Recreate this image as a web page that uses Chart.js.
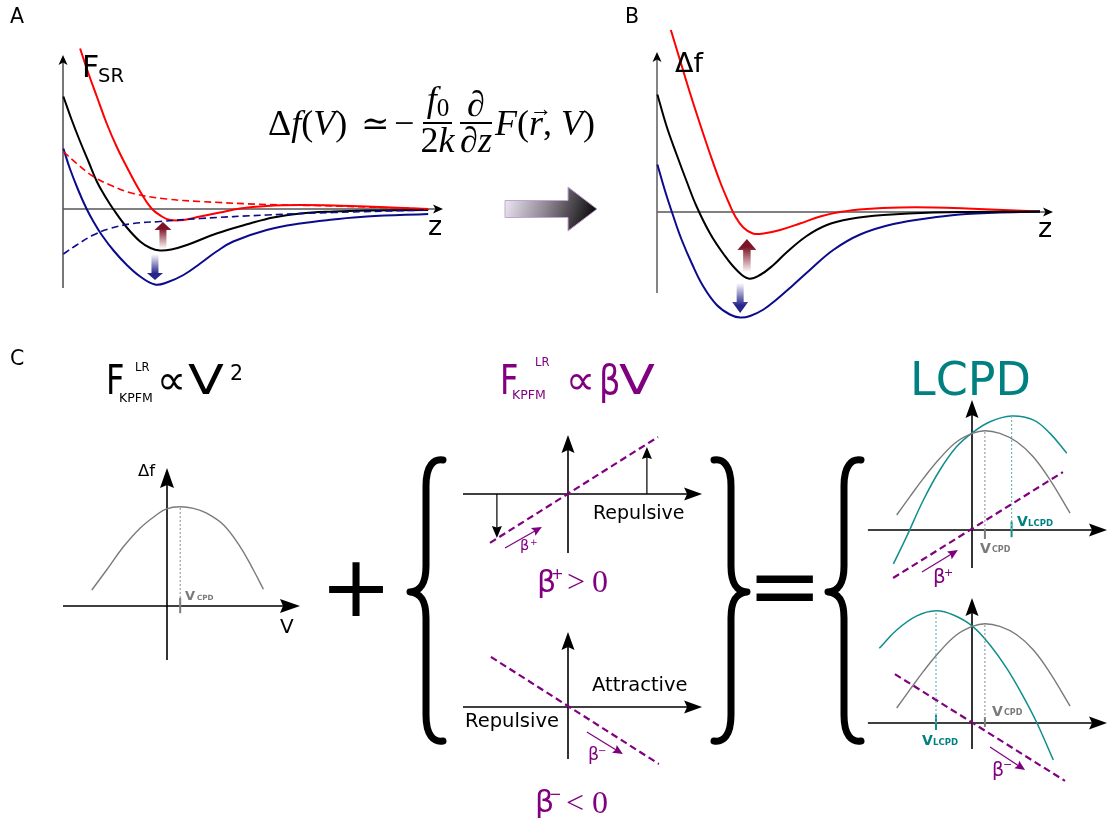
<!DOCTYPE html>
<html lang="en">
<head>
<meta charset="utf-8">
<title>Short-range force, frequency shift and KPFM parabolas</title>
<script src="https://cdn.jsdelivr.net/npm/chart.js@4.4.1/dist/chart.umd.min.js"></script>
<style>
  html, body { margin: 0; padding: 0; background: #fff; }
  #fig { position: relative; width: 1120px; height: 824px; overflow: hidden; background: #fff; }
  #fig canvas { position: absolute; }
  .t { position: absolute; white-space: nowrap; line-height: 1; margin: 0; transform-origin: 0 0; }
</style>
</head>
<body>
<div id="fig"><canvas id="deco" width="1120" height="824" style="left:0;top:0"></canvas></div>
<script>
// ================= values (arbitrary units) =================

// A: short-range force F_SR(z)
const fsrRef   = [[0.01,2.25],[0.23,1.78],[0.45,1.35],[0.67,0.95],[0.89,0.55],[1.11,0.25],[1.33,-0.01],[1.68,-0.37],[2.03,-0.65],[2.30,-0.78],[2.55,-0.83],[2.85,-0.81],[3.26,-0.72],[4.04,-0.49],[4.92,-0.29],[5.53,-0.17],[6.24,-0.09],[7.11,-0.05],[7.99,-0.03],[9.61,-0.02]];
const fsrPlus  = [[0.45,3.21],[0.67,2.71],[0.89,2.25],[1.15,1.71],[1.41,1.25],[1.72,0.78],[2.03,0.35],[2.33,0.01],[2.60,-0.15],[2.82,-0.22],[3.17,-0.22],[3.61,-0.15],[4.13,-0.07],[4.66,0.01],[5.36,0.06],[6.24,0.08],[7.11,0.07],[7.99,0.05],[9.61,0.0]];
const fsrMinus = [[0.01,1.21],[0.18,0.81],[0.40,0.38],[0.61,0.02],[0.80,-0.25],[1.02,-0.52],[1.33,-0.83],[1.68,-1.12],[2.03,-1.35],[2.42,-1.51],[2.73,-1.47],[3.17,-1.32],[3.61,-1.09],[4.04,-0.85],[4.48,-0.65],[5.36,-0.42],[6.24,-0.29],[7.11,-0.21],[7.99,-0.15],[9.61,-0.10]];
const lrPlus   = [[0.01,1.15],[0.36,0.91],[0.80,0.65],[1.24,0.48],[1.85,0.31],[2.73,0.20],[3.61,0.15],[5.36,0.09],[7.11,0.06],[9.61,0.0]];
const lrMinus  = [[0.01,-0.90],[0.36,-0.72],[0.80,-0.52],[1.24,-0.39],[1.85,-0.29],[2.55,-0.25],[3.61,-0.19],[5.36,-0.12],[7.11,-0.07],[9.61,-0.02]];
// shift arrows in A: [z, from F, to F]
const shiftUpA   = [2.63, -0.78, -0.26];
const shiftDownA = [2.42, -0.90, -1.42];

// B: frequency shift Δf(z)
const dfRef   = [[0.01,2.35],[0.24,1.72],[0.50,1.14],[0.75,0.61],[1.00,0.11],[1.34,-0.43],[1.68,-0.84],[2.01,-1.16],[2.31,-1.33],[2.60,-1.26],[2.94,-1.06],[3.27,-0.81],[3.78,-0.48],[4.29,-0.26],[4.87,-0.14],[5.72,-0.06],[6.98,-0.01],[9.67,0.01]];
const dfPlus  = [[0.35,3.64],[0.58,3.04],[0.83,2.39],[1.09,1.75],[1.34,1.16],[1.59,0.61],[1.80,0.21],[1.97,-0.08],[2.18,-0.31],[2.42,-0.43],[2.69,-0.43],[3.11,-0.36],[3.61,-0.23],[4.12,-0.09],[4.62,0.0],[5.30,0.06],[6.14,0.09],[6.98,0.09],[7.82,0.07],[9.67,0.01]];
const dfMinus = [[0.01,0.95],[0.20,0.43],[0.41,-0.08],[0.62,-0.55],[0.88,-1.03],[1.17,-1.49],[1.51,-1.86],[1.84,-2.05],[2.10,-2.11],[2.35,-2.08],[2.69,-1.95],[3.02,-1.75],[3.44,-1.46],[3.86,-1.16],[4.45,-0.76],[5.13,-0.45],[5.97,-0.24],[6.98,-0.11],[7.82,-0.04],[9.67,0.01]];
const shiftUpB   = [2.27, -1.19, -0.54];
const shiftDownB = [2.10, -1.42, -2.02];

// C, left: Δf(V) parabola
const kpfmParabola = [[-1.88,0.40],[-1.51,0.90],[-1.09,1.48],[-0.68,1.94],[-0.26,2.28],[-0.01,2.43],[0.33,2.48],[0.66,2.44],[0.99,2.32],[1.41,2.03],[1.83,1.48],[2.16,0.90],[2.41,0.42]];
const kpfmVcpd = 0.33, kpfmTop = 2.48;

// C, middle: linear term βV
const betaPlusLine  = [[-2.60,-1.63],[3.00,1.90]];
const betaMinusLine = [[-2.57,1.67],[3.03,-1.90]];
const forceArrowsPlus = [[2.63,0,1.57],[-2.37,0,-1.47]];   // [V, from, to]
const betaPlusHint  = [[-2.10,-1.80],[-0.87,-1.10]];
const betaMinusHint = [[0.63,-0.83],[1.83,-1.57]];

// C, right: parabola shifted by the linear term
const cpdParabola    = [[-2.51,0.50],[-2.07,1.11],[-1.62,1.72],[-1.07,2.39],[-0.51,2.94],[0.01,3.22],[0.43,3.31],[0.93,3.22],[1.49,2.94],[2.04,2.44],[2.60,1.67],[3.27,0.56]];
const lcpdPlus       = [[-2.62,-1.13],[-2.18,-0.22],[-1.62,1.00],[-1.07,2.00],[-0.51,2.78],[0.01,3.24],[0.60,3.61],[1.32,3.80],[2.04,3.67],[2.60,3.22],[3.16,2.56]];
const lcpdMinus      = [[-3.09,2.49],[-2.51,3.10],[-1.84,3.57],[-1.20,3.74],[-0.62,3.60],[0.01,3.23],[0.60,2.60],[1.16,1.82],[1.71,0.88],[2.16,0.01],[2.71,-1.23]];
const rightBetaPlus  = [[-2.63,-1.60],[3.03,1.93]];
const rightBetaMinus = [[-2.57,1.63],[3.10,-1.93]];
const rightHintPlus  = [[-1.67,-1.40],[-0.47,-0.67]];
const rightHintMinus = [[0.60,-0.80],[1.77,-1.57]];
// [V_CPD, top of CPD parabola, V_LCPD, top of LCPD parabola]
const extremaPlus  = [0.43, 3.31, 1.32, 3.80];
const extremaMinus = [0.43, 3.30, -1.20, 3.74];

// ================= styles =================
const RED = '#ff0000', NAVY = '#0b0b8c', BLACK = '#000000', GREY = '#7a7a7a',
      PURPLE = '#800080', TEAL = '#008080', TEAL_LINE = '#0e8e8e', TEAL_DOT = '#6fb8b8';

const fig = document.getElementById('fig');

// ---------- drawing helpers for axes and arrows ----------
function headPath(ctx, tx, ty, ang, len, hw, notch) {
  const c = Math.cos(ang), s = Math.sin(ang);
  const bx = tx - c * len, by = ty - s * len;
  ctx.beginPath();
  ctx.moveTo(tx, ty);
  ctx.lineTo(bx - s * hw, by + c * hw);
  ctx.lineTo(tx - c * (len - notch), ty - s * (len - notch));
  ctx.lineTo(bx + s * hw, by - c * hw);
  ctx.closePath();
}
function arrowPx(ctx, x0, y0, x1, y1, color, width, head) {
  const ang = Math.atan2(y1 - y0, x1 - x0);
  const back = head.len * 0.6;
  ctx.save();
  ctx.strokeStyle = color; ctx.lineWidth = width; ctx.lineCap = 'butt';
  ctx.beginPath(); ctx.moveTo(x0, y0);
  ctx.lineTo(x1 - Math.cos(ang) * back, y1 - Math.sin(ang) * back); ctx.stroke();
  ctx.fillStyle = head.color || color;
  headPath(ctx, x1, y1, ang, head.len, head.hw, head.notch); ctx.fill();
  ctx.restore();
}
function gradArrowPx(ctx, x, y0, y1, g) {
  const dir = Math.sign(y1 - y0);
  const hb = y1 - dir * g.hl;
  const grad = ctx.createLinearGradient(x, y0, x, y1);
  grad.addColorStop(0, g.light); grad.addColorStop(0.75, g.dark); grad.addColorStop(1, g.dark);
  ctx.save();
  ctx.fillStyle = grad;
  ctx.beginPath();
  ctx.moveTo(x - g.shaft / 2, y0); ctx.lineTo(x - g.shaft / 2, hb); ctx.lineTo(x - g.hw, hb);
  ctx.lineTo(x, y1); ctx.lineTo(x + g.hw, hb); ctx.lineTo(x + g.shaft / 2, hb);
  ctx.lineTo(x + g.shaft / 2, y0); ctx.closePath(); ctx.fill();
  ctx.restore();
}

// plugin: arrowed axes through the origin, plus annotation arrows, all in data units
function sketchPlugin(cfg) {
  return {
    id: 'sketchAxes',
    beforeDatasetsDraw(chart) {
      const ctx = chart.ctx, sx = chart.scales.x, sy = chart.scales.y;
      const X = v => sx.getPixelForValue(v), Y = v => sy.getPixelForValue(v);
      const a = cfg.axes, h = a.head;
      ctx.save();
      ctx.lineCap = 'butt';
      ctx.strokeStyle = a.xColor; ctx.lineWidth = a.xw;
      ctx.beginPath(); ctx.moveTo(X(a.x[0]), Y(0)); ctx.lineTo(X(a.x[1]) - h.len * 0.5, Y(0)); ctx.stroke();
      ctx.strokeStyle = a.yColor; ctx.lineWidth = a.yw;
      ctx.beginPath(); ctx.moveTo(X(0), Y(a.y[0])); ctx.lineTo(X(0), Y(a.y[1]) + h.len * 0.5); ctx.stroke();
      ctx.fillStyle = h.color;
      headPath(ctx, X(a.x[1]), Y(0), 0, h.len, h.hw, h.notch); ctx.fill();
      headPath(ctx, X(0), Y(a.y[1]), -Math.PI / 2, h.len, h.hw, h.notch); ctx.fill();
      ctx.restore();
    },
    afterDatasetsDraw(chart) {
      const ctx = chart.ctx, sx = chart.scales.x, sy = chart.scales.y;
      const X = v => sx.getPixelForValue(v), Y = v => sy.getPixelForValue(v);
      (cfg.arrows || []).forEach(ar => {
        arrowPx(ctx, X(ar.from[0]), Y(ar.from[1]), X(ar.to[0]), Y(ar.to[1]), ar.color, ar.width, ar.head);
      });
      (cfg.shifts || []).forEach(s => {
        gradArrowPx(ctx, X(s.v[0]), Y(s.v[1]), Y(s.v[2]), s);
      });
    }
  };
}

const curve = (data, color, width, dash) => ({
  data, borderColor: color, borderWidth: width, borderDash: dash || [],
  pointRadius: 0, fill: false, tension: 0.4
});
const segment = (data, color, width, dash) => ({
  data, borderColor: color, borderWidth: width, borderDash: dash || [],
  pointRadius: 0, fill: false, tension: 0
});

// one chart per panel; box = canvas rectangle, origin = pixel of (0,0), unit = px per data unit
function panel(box, origin, unit, datasets, cfg) {
  const c = document.createElement('canvas');
  c.width = box[2]; c.height = box[3];
  c.style.left = box[0] + 'px'; c.style.top = box[1] + 'px';
  fig.appendChild(c);
  const [ux, uy] = unit;
  return new Chart(c, {
    type: 'line',
    data: { datasets },
    options: {
      responsive: false, animation: false, events: [],
      layout: { padding: 0 },
      elements: { point: { radius: 0, hoverRadius: 0 }, line: { capBezierPoints: false } },
      plugins: { legend: { display: false }, tooltip: { enabled: false } },
      scales: {
        x: { type: 'linear', display: false,
             min: (box[0] - origin[0]) / ux, max: (box[0] + box[2] - origin[0]) / ux },
        y: { type: 'linear', display: false,
             min: (origin[1] - box[1] - box[3]) / uy, max: (origin[1] - box[1]) / uy }
      }
    },
    plugins: [sketchPlugin(cfg)]
  });
}

const smallHead = { len: 10, hw: 4.5, notch: 2.5, color: BLACK };
const bigHead = { len: 18, hw: 6.5, notch: 3, color: BLACK };
const thinHead = { len: 10, hw: 4.5, notch: 1.5 };

// ----- A -----
panel([40, 30, 425, 275], [63, 209], [38, 50], [
  curve(lrPlus, RED, 1.6, [7, 4]),
  curve(lrMinus, NAVY, 1.6, [7, 4]),
  curve(fsrRef, BLACK, 2),
  curve(fsrMinus, NAVY, 2),
  curve(fsrPlus, RED, 2)
], {
  axes: { x: [0, 10], y: [-1.58, 3.08], xColor: BLACK, yColor: '#555', xw: 1, yw: 1.6, head: smallHead },
  shifts: [
    { v: shiftUpA, light: '#fbf4f5', dark: '#7d1426', shaft: 7, hl: 8, hw: 8.5 },
    { v: shiftDownA, light: '#ffffff', dark: '#25258a', shaft: 7, hl: 7, hw: 8 }
  ]
});

// ----- B -----
panel([610, 15, 480, 320], [657, 212], [39.6, 50], [
  curve(dfRef, BLACK, 2),
  curve(dfMinus, NAVY, 2),
  curve(dfPlus, RED, 2)
], {
  axes: { x: [0, 10], y: [-1.62, 3.2], xColor: BLACK, yColor: '#666', xw: 1, yw: 1.6, head: smallHead },
  shifts: [
    { v: shiftUpB, light: '#fbf4f5', dark: '#7d1426', shaft: 7.5, hl: 11, hw: 9.5 },
    { v: shiftDownB, light: '#ffffff', dark: '#25258a', shaft: 7, hl: 11, hw: 8 }
  ]
});

// ----- C, left: parabola -----
panel([55, 455, 255, 215], [167, 606], [40, 40], [
  curve(kpfmParabola, GREY, 1.4),
  segment([[kpfmVcpd, 0], [kpfmVcpd, kpfmTop]], '#8a8a8a', 1, [2, 2]),
  segment([[kpfmVcpd, -0.18], [kpfmVcpd, 0.2]], GREY, 2)
], {
  axes: { x: [-2.6, 3.325], y: [-1.35, 3.45], xColor: BLACK, yColor: BLACK, xw: 1.6, yw: 1.6,
          head: { len: 20, hw: 7, notch: 3, color: BLACK } }
});

// ----- C, middle top: β+ -----
panel([455, 425, 255, 135], [568, 494], [30, 30], [
  segment(betaPlusLine, PURPLE, 2.2, [7, 4])
], {
  axes: { x: [-3.5, 4.47], y: [-1.97, 1.97], xColor: BLACK, yColor: BLACK, xw: 1.6, yw: 1.6, head: bigHead },
  arrows: [
    { from: [forceArrowsPlus[0][0], forceArrowsPlus[0][1]], to: [forceArrowsPlus[0][0], forceArrowsPlus[0][2]], color: BLACK, width: 1.2, head: { ...thinHead, len: 12, hw: 5 } },
    { from: [forceArrowsPlus[1][0], forceArrowsPlus[1][1]], to: [forceArrowsPlus[1][0], forceArrowsPlus[1][2]], color: BLACK, width: 1.2, head: { ...thinHead, len: 12, hw: 5 } },
    { from: betaPlusHint[0], to: betaPlusHint[1], color: PURPLE, width: 1.2, head: thinHead }
  ]
});

// ----- C, middle bottom: β- -----
panel([455, 620, 255, 150], [568, 707], [30, 30], [
  segment(betaMinusLine, PURPLE, 2.2, [7, 4])
], {
  axes: { x: [-3.5, 4.47], y: [-1.73, 2.5], xColor: BLACK, yColor: BLACK, xw: 1.6, yw: 1.6, head: bigHead },
  arrows: [{ from: betaMinusHint[0], to: betaMinusHint[1], color: PURPLE, width: 1.2, head: thinHead }]
});

// ----- C, right top: LCPD shifted to positive bias -----
panel([860, 395, 255, 190], [972, 530], [30, 30], [
  segment([[extremaPlus[0], 0], [extremaPlus[0], extremaPlus[1]]], '#8a8a8a', 1, [2, 2]),
  segment([[extremaPlus[2], 0], [extremaPlus[2], extremaPlus[3]]], TEAL_DOT, 1.2, [2, 2]),
  curve(cpdParabola, GREY, 1.4),
  curve(lcpdPlus, TEAL_LINE, 1.5),
  segment(rightBetaPlus, PURPLE, 2.2, [7, 4]),
  segment([[extremaPlus[0], -0.3], [extremaPlus[0], 0.02]], GREY, 2),
  segment([[extremaPlus[2], -0.24], [extremaPlus[2], 0.28]], TEAL_LINE, 2)
], {
  axes: { x: [-3.47, 4.5], y: [-1.27, 4.33], xColor: BLACK, yColor: BLACK, xw: 1.6, yw: 1.6, head: bigHead },
  arrows: [{ from: rightHintPlus[0], to: rightHintPlus[1], color: PURPLE, width: 1.2, head: thinHead }]
});

// ----- C, right bottom: LCPD shifted to negative bias -----
panel([860, 590, 255, 200], [972, 723], [30, 30], [
  segment([[extremaMinus[0], 0], [extremaMinus[0], extremaMinus[1]]], '#8a8a8a', 1, [2, 2]),
  segment([[extremaMinus[2], 0], [extremaMinus[2], extremaMinus[3]]], TEAL_DOT, 1.2, [2, 2]),
  curve(cpdParabola, GREY, 1.4),
  curve(lcpdMinus, TEAL_LINE, 1.5),
  segment(rightBetaMinus, PURPLE, 2.2, [7, 4]),
  segment([[extremaMinus[0], -0.13], [extremaMinus[0], 0.2]], GREY, 2),
  segment([[extremaMinus[2], -0.23], [extremaMinus[2], 0.27]], TEAL_LINE, 2)
], {
  axes: { x: [-3.47, 4.5], y: [-0.87, 4.17], xColor: BLACK, yColor: BLACK, xw: 1.6, yw: 1.6, head: bigHead },
  arrows: [{ from: rightHintMinus[0], to: rightHintMinus[1], color: PURPLE, width: 1.2, head: thinHead }]
});

// ================= connecting graphics: arrow A→B and braces =================
(function () {
  const ctx = document.getElementById('deco').getContext('2d');
  // block arrow from A to B
  const g = ctx.createLinearGradient(505, 196, 595, 226);
  g.addColorStop(0, '#efe9f6'); g.addColorStop(0.45, '#8e8692'); g.addColorStop(1, '#000');
  ctx.fillStyle = g; ctx.strokeStyle = '#c7a3d3'; ctx.lineWidth = 1;
  ctx.beginPath();
  ctx.moveTo(505, 200.5); ctx.lineTo(568, 200.5); ctx.lineTo(568, 187); ctx.lineTo(597, 209);
  ctx.lineTo(568, 231); ctx.lineTo(568, 217.5); ctx.lineTo(505, 217.5); ctx.closePath();
  ctx.fill(); ctx.stroke();

  function brace(tipX, spineX, cuspX, top, mid, bottom, curl) {
    const s = Math.sign(tipX - spineX);
    ctx.beginPath();
    ctx.moveTo(tipX, top);
    ctx.bezierCurveTo(tipX - s * 9, top - 1.5, spineX, top + 5, spineX, top + curl);
    ctx.lineTo(spineX, mid - curl);
    ctx.bezierCurveTo(spineX, mid - 9, spineX - s * 5, mid - 1, cuspX, mid);
    ctx.bezierCurveTo(spineX - s * 5, mid + 1, spineX, mid + 9, spineX, mid + curl);
    ctx.lineTo(spineX, bottom - curl);
    ctx.bezierCurveTo(spineX, bottom - 5, tipX - s * 9, bottom + 1.5, tipX, bottom);
    ctx.stroke();
  }
  ctx.strokeStyle = '#000'; ctx.lineWidth = 7; ctx.lineCap = 'round'; ctx.lineJoin = 'round';
  brace(443, 426, 410, 460, 592, 741, 26);
  brace(714, 731, 747, 460, 592, 741, 26);
  brace(861, 844, 828, 460, 592, 741, 26);
})();

// ================= text =================
const FONTS = {
  sans: ["'DejaVu Sans', sans-serif", 0.846],
  serif: ["'Liberation Serif', 'DejaVu Serif', serif", 0.8375]
};
// place html text with its baseline at y
function txt(html, x, y, size, o) {
  o = o || {};
  const f = FONTS[o.font || 'sans'];
  const d = document.createElement('div');
  d.className = 't';
  d.style.fontFamily = f[0];
  d.style.fontSize = size + 'px';
  d.style.left = x + 'px';
  d.style.top = (y - f[1] * size) + 'px';
  if (o.color) d.style.color = o.color;
  if (o.bold) d.style.fontWeight = 'bold';
  if (o.center) d.style.transform = 'translateX(-50%)';
  if (o.sx) d.style.transform = 'scaleX(' + o.sx + ')';
  d.innerHTML = html;
  fig.appendChild(d);
}
function rule(x0, x1, y) {
  const d = document.createElement('div');
  d.style.cssText = 'position:absolute;background:#000;height:1.3px;left:' + x0 + 'px;width:' + (x1 - x0) + 'px;top:' + (y - 0.65) + 'px';
  fig.appendChild(d);
}

// panel letters
txt('A', 10, 23, 20.5);
txt('B', 625, 23, 20.5);
txt('C', 10, 365, 20.5);

// A / B axis labels
txt('F', 82, 77, 30);
txt('SR', 98, 82, 19.5);
txt('z', 428, 235, 27);
txt('Δf', 675, 72, 27);
txt('z', 1038, 237, 27);

// relation between force and frequency shift
txt('Δ<i>f</i>(<i>V</i>)', 268, 135, 36, { font: 'serif' });
txt('≃', 361, 135, 34, { font: 'serif' });
txt('−', 394, 135, 36, { font: 'serif' });
txt('<i>f</i><span style="font-size:0.7em;position:relative;top:0.2em">0</span>', 438, 111, 36, { font: 'serif', center: true });
rule(423, 452, 123);
txt('2<i>k</i>', 437.5, 152, 36, { font: 'serif', center: true });
txt('∂', 476, 116, 36, { font: 'serif', center: true });
rule(460, 492, 123);
txt('∂<i>z</i>', 476, 152, 36, { font: 'serif', center: true });
txt('<i>F</i>(<span style="position:relative;display:inline-block"><i>r</i><span style="position:absolute;left:0.02em;top:-0.3em;font-size:0.62em">→</span></span>, <i>V</i>)', 495, 135, 36, { font: 'serif' });

// C headings
txt('F', 106, 395, 41, { sx: 0.78 });
txt('LR', 135, 372, 11.5);
txt('KPFM', 119, 403, 12.5);
txt('∝', 157, 395, 41);
txt('V', 188, 395, 41, { sx: 1.28 });
txt('2', 230, 380, 20.5);

txt('F', 500, 395, 41, { color: PURPLE, sx: 0.78 });
txt('LR', 535, 367, 11.5, { color: PURPLE });
txt('KPFM', 512, 400, 12.5, { color: PURPLE });
txt('∝', 566, 395, 41, { color: PURPLE });
txt('β', 599, 395, 41, { color: PURPLE, sx: 0.82 });
txt('V', 619, 395, 41, { color: PURPLE, sx: 1.28 });

txt('LCPD', 910, 395, 46, { color: TEAL });

// C left labels
txt('Δf', 138, 477, 16.5);
txt('V', 280, 633, 20);
txt('V', 185, 600, 13, { color: GREY, bold: true });
txt('CPD', 197, 600, 7.2, { color: GREY, bold: true });

// C middle labels
txt('Repulsive', 593, 519, 19);
txt('β', 520, 550, 14.5, { color: PURPLE });
txt('+', 530, 546, 9, { color: PURPLE });
txt('β', 537, 592, 30, { color: PURPLE });
txt('+', 551, 580, 15, { color: PURPLE });
txt('&gt;', 567, 592, 32, { font: 'serif', color: PURPLE });
txt('0', 592, 592, 32, { font: 'serif', color: PURPLE });

txt('Attractive', 592, 691, 19.5);
txt('Repulsive', 465, 727, 19.5);
txt('β', 588, 761, 17.5, { color: PURPLE });
txt('−', 598, 754, 10, { color: PURPLE });
txt('β', 535, 812, 30, { color: PURPLE });
txt('−', 549, 800, 15, { color: PURPLE });
txt('&lt;', 566, 813, 32, { font: 'serif', color: PURPLE });
txt('0', 592, 813, 32, { font: 'serif', color: PURPLE });

// C right labels
txt('V', 1017, 526, 14, { color: TEAL, bold: true });
txt('LCPD', 1028, 526, 8.5, { color: TEAL, bold: true });
txt('V', 980, 553, 14, { color: GREY, bold: true });
txt('CPD', 992, 553, 8, { color: GREY, bold: true });
txt('β', 933, 583, 20, { color: PURPLE });
txt('+', 944, 576, 11, { color: PURPLE });

txt('V', 992, 716, 14, { color: GREY, bold: true });
txt('CPD', 1004, 716, 8, { color: GREY, bold: true });
txt('V', 922, 745, 14, { color: TEAL, bold: true });
txt('LCPD', 933, 745, 8.5, { color: TEAL, bold: true });
txt('β', 992, 776, 19, { color: PURPLE });
txt('−', 1003, 768, 11, { color: PURPLE });

// operators between the terms
txt('+', 320, 616, 86);
txt('=', 747, 617, 90);
</script>
</body>
</html>
